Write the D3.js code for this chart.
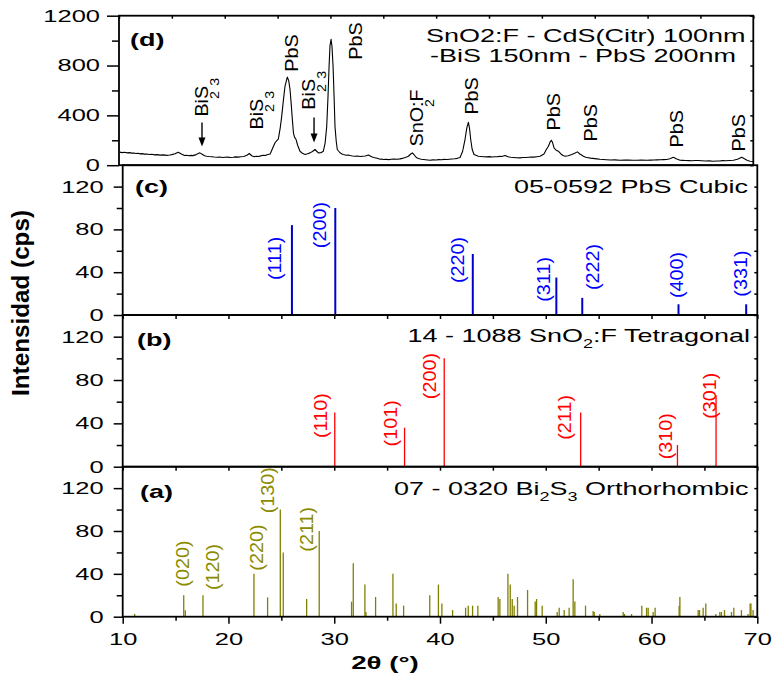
<!DOCTYPE html>
<html><head><meta charset="utf-8">
<script src="https://cdn.jsdelivr.net/npm/d3@7"></script>
<style>body{margin:0;background:#fff}svg{display:block}</style>
</head><body>
<svg id="chart" width="772" height="689"></svg>
<script>
// ---------------- DATA ----------------
// (d) measured pattern: [2theta, counts]
const dPattern = [[10.05,105],[10.3,101],[10.5,104],[10.8,99],[11.0,101],[11.2,97],[11.4,98],[11.6,94],[11.8,96],[12.0,91],[12.2,93],[12.4,89],[12.6,90],[12.9,86],[13.1,88],[13.4,83],[13.6,85],[13.9,81],[14.2,83],[14.5,79],[14.8,82],[15.0,85],[15.3,92],[15.6,104],[15.9,90],[16.2,78],[16.4,80],[16.6,76],[16.8,79],[17.0,77],[17.3,85],[17.65,99],[17.9,86],[18.1,76],[18.3,72],[18.5,70],[18.8,68],[19.0,66],[19.3,64],[19.5,66],[19.8,62],[20.0,64],[20.3,65],[20.5,62],[20.8,64],[21.0,67],[21.3,65],[21.5,68],[21.8,70],[22.1,80],[22.33,94],[22.55,76],[22.8,68],[23.0,72],[23.2,70],[23.4,75],[23.65,80],[23.85,78],[24.0,84],[24.3,90],[24.55,140],[24.76,180],[24.95,200],[25.07,210],[25.25,300],[25.39,392],[25.55,520],[25.7,632],[25.92,707],[26.05,680],[26.18,606],[26.3,480],[26.4,366],[26.5,260],[26.6,225],[26.75,206],[26.9,160],[27.12,112],[27.35,95],[27.6,86],[27.85,92],[28.07,99],[28.3,110],[28.54,126],[28.7,112],[28.86,99],[29.1,100],[29.33,112],[29.5,180],[29.65,312],[29.77,550],[29.87,792],[29.96,960],[30.06,1011],[30.15,950],[30.25,792],[30.35,540],[30.43,312],[30.55,190],[30.65,126],[30.9,100],[31.1,90],[31.22,86],[31.5,80],[31.7,82],[31.85,78],[32.1,74],[32.3,72],[32.55,74],[32.8,70],[33.05,72],[33.3,74],[33.59,82],[33.9,68],[34.1,62],[34.3,58],[34.5,54],[34.7,48],[34.85,50],[35.0,46],[35.25,48],[35.5,45],[35.75,48],[36.0,50],[36.3,48],[36.58,51],[36.8,55],[37.0,60],[37.2,66],[37.37,72],[37.6,90],[37.75,99],[37.95,80],[38.16,59],[38.4,52],[38.6,48],[38.8,46],[39.0,44],[39.2,42],[39.42,40],[39.7,43],[40.0,42],[40.25,45],[40.5,44],[40.75,47],[41.0,46],[41.25,48],[41.5,50],[41.75,52],[42.0,55],[42.26,62],[42.5,110],[42.73,206],[42.9,300],[43.05,344],[43.15,300],[43.27,206],[43.4,130],[43.58,86],[44.0,72],[44.25,70],[44.5,68],[44.79,67],[45.05,69],[45.3,66],[45.55,68],[45.8,68],[46.0,71],[46.2,70],[46.52,78],[46.8,68],[47.05,64],[47.3,62],[47.6,60],[47.94,59],[48.2,62],[48.5,62],[48.75,64],[49.0,66],[49.25,65],[49.5,68],[49.83,72],[50.2,90],[50.45,130],[50.62,152],[50.8,190],[50.9,200],[51.0,185],[51.15,139],[51.35,120],[51.56,112],[51.8,90],[52.0,78],[52.2,72],[52.5,76],[52.83,86],[53.1,96],[53.36,107],[53.6,90],[53.93,72],[54.15,64],[54.4,60],[54.6,57],[54.8,55],[55.0,53],[55.19,51],[55.5,48],[55.8,46],[56.1,44],[56.5,42],[56.9,43],[57.4,40],[57.8,41],[58.2,42],[58.6,40],[59.0,40],[59.4,42],[59.92,40],[60.3,41],[60.6,42],[60.9,43],[61.2,44],[61.5,45],[61.81,46],[62.1,52],[62.44,64],[62.7,52],[63.07,40],[63.3,39],[63.6,38],[63.9,37],[64.2,36],[64.5,38],[64.8,38],[65.1,36],[65.5,34],[65.8,35],[66.22,32],[66.5,34],[66.8,34],[67.1,37],[67.4,36],[67.75,38],[68.12,40],[68.5,48],[68.91,64],[69.2,50],[69.45,38],[69.7,32],[70.0,30]];
const dPeakNames = ["Bi2S3","Bi2S3","PbS","Bi2S3","PbS","SnO2:F","PbS","PbS","PbS","PbS","PbS"];
const dPeakLabelTheta = [18.45,23.66,26.93,28.54,32.99,38.79,43.96,51.72,55.22,63.36,69.23];
const dPeakLabelCounts = [390,286,750,446,846,150,406,278,190,142,110];
const dArrowTheta = [17.85,28.45];
const dArrowFrom = [342,382];
const dArrowTo = [150,182];

// (c) PbS cubic 05-0592
const pbsTheta = [26.0,30.1,43.1,51.0,53.45,62.55,68.95];
const pbsInt = [84,100,57,35,16,10,10];
const pbsHkl = ["(111)","(200)","(220)","(311)","(222)","(400)","(331)"];
const pbsLabelTheta = [24.96,29.2,42.26,50.39,55.0,62.94,69.05];
const pbsLabelInt = [32.7,62.5,29.9,12.4,23.3,15.9,17.1];

// (b) SnO2:F tetragonal 14-1088
const snoTheta = [30.05,36.65,40.4,53.3,62.45,66.1];
const snoInt = [50,36,100,50,20,66];
const snoHkl = ["(110)","(101)","(200)","(211)","(310)","(301)"];
const snoLabelTheta = [29.3,35.93,39.6,52.37,61.9,66.08];
const snoLabelInt = [26.5,18.7,62.3,24.9,6.9,44.2];

// (a) Bi2S3 orthorhombic 07-0320
const biTheta = [11.13,15.77,15.92,17.59,22.41,23.70,24.90,25.18,27.39,28.58,31.64,31.80,32.90,33.00,33.91,35.55,35.86,36.56,39.03,39.85,40.18,41.19,42.42,42.67,43.08,43.58,45.50,45.66,46.42,46.64,46.83,47.01,47.33,48.28,49.00,49.13,49.66,51.08,51.27,51.74,52.21,52.59,52.75,53.76,54.48,54.58,55.11,57.32,57.45,58.11,59.08,59.53,59.68,60.15,60.34,62.61,62.68,64.41,64.54,64.88,65.13,66.08,66.46,66.61,66.90,67.56,67.78,68.50,69.13,69.32,69.40,69.60];
const biInt = [2.5,20,6,20,40,18,100,60,16.5,80,14,50,30,4.4,18.4,40,12.4,10.3,20,30,12.4,6.2,8.4,10.3,10.3,10.3,18.4,16.5,40,30,16.5,10.3,18.4,25,14.3,16.5,10.3,4.4,8.4,6.2,8.4,35,14.3,10.3,5.3,4.4,2.5,4.4,2.5,2.5,10.3,8.4,8.4,4.4,8.4,10.3,18.4,6.2,6.2,8.4,12.4,2.5,4.4,4.4,6.2,4.4,8.4,6.2,2.5,12.4,12.4,6.2];
const biHkl = ["(020)","(120)","(220)","(130)","(211)"];
const biLabelTheta = [16.27,19.1,23.26,24.35,28.0];
const biLabelInt = [28,24.9,43,96.5,60.7];

// axes ticks
const xMajor = [10,20,30,40,50,60,70];
const xAll = [10,15,20,25,30,35,40,45,50,55,60,65,70];
const xMinor = [15,25,35,45,55,65];
const dYMajor = [0,400,800,1200], dYMinor = [200,600,1000], dYAll = [0,200,400,600,800,1000,1200];
const refYMajor = [0,40,80,120], refYMinor = [20,60,100], refYAll = [0,20,40,60,80,100,120];

// ---------------- LAYOUT ----------------
const FONT = "'Liberation Sans', Arial, Helvetica, sans-serif";
const SX = 1.5;   // horizontal text stretch of the original
const RS = 1.1;   // stretch along rotated text
const svg = d3.select('#chart');
svg.append('rect').attr('width',772).attr('height',689).attr('fill','#fff');

function mkPanel(top,bottom,left,right,ymax){
  return {top,bottom,left,right,
    x:d3.scaleLinear().domain([10,70]).range([left,right]),
    y:d3.scaleLinear().domain([0,ymax]).range([bottom,top])};
}
const P = {
  d: mkPanel(15.7,165.2,119,753.3,1200),
  c: mkPanel(165.2,315,122.7,757.3,140),
  b: mkPanel(315,466.7,122.7,757.3,140),
  a: mkPanel(466.7,616.7,122.7,757.3,140)
};

// ---------------- TEXT HELPERS ----------------
function addSegs(t, segs, subSize, subDy){
  let cur = 0;
  segs.forEach(([str,kind,dx])=>{
    const ts = t.append('tspan').text(str);
    const target = kind==='s' ? subDy : 0;
    if (target!==cur){ ts.attr('dy', target-cur); cur = target; }
    if (kind==='s') ts.attr('font-size', subSize);
    if (dx) ts.attr('dx', dx);
  });
}
// formula like Bi2S3 / SnO2:F -> segments (digits after letters become subscripts)
function formulaSegs(s, overlap, subSize){
  const segs = [];
  let prevSub = false;
  const parts = s.match(/[^\d]+|\d+/g);
  parts.forEach((p,i)=>{
    const isNum = /^\d+$/.test(p);
    const prev = i>0 ? parts[i-1] : '';
    if (isNum && /[A-Za-z]$/.test(prev)){
      segs.push([p,'s']); prevSub = true;
    } else {
      segs.push([p,'n', (overlap && prevSub) ? -0.556*subSize : 0]); prevSub = false;
    }
  });
  return segs;
}
function hText(x,y,segs,o={}){
  const t = svg.append('text')
    .attr('transform',`translate(${x},${y}) scale(${SX},1)`)
    .attr('font-family',FONT).attr('font-size',o.size||18)
    .attr('font-weight',o.weight||'normal').attr('text-anchor',o.anchor||'start')
    .attr('fill',o.fill||'#000');
  addSegs(t,segs,o.subSize||12,o.subDy||6);
  return t;
}
function rText(x,y,segs,o={}){
  const t = svg.append('text')
    .attr('transform',`translate(${x},${y}) rotate(-90) scale(${RS},1)`)
    .attr('font-family',FONT).attr('font-size',o.size||18)
    .attr('font-weight',o.weight||'normal').attr('text-anchor',o.anchor||'start')
    .attr('fill',o.fill||'#000');
  addSegs(t,segs,o.subSize||13,o.subDy||11);
  return t;
}

// ---------------- PANEL (d) ----------------
const pd = P.d;
svg.append('path').datum(dPattern)
  .attr('d', d3.line().x(d=>pd.x(d[0])).y(d=>pd.y(d[1])))
  .attr('fill','none').attr('stroke','#000').attr('stroke-width',1.1).attr('stroke-linejoin','round');

dPeakNames.forEach((n,i)=>{
  rText(pd.x(dPeakLabelTheta[i]), pd.y(dPeakLabelCounts[i]), formulaSegs(n,true,13), {size:18});
});
dArrowTheta.forEach((t,i)=>{
  const x = pd.x(t), y1 = pd.y(dArrowFrom[i]), y2 = pd.y(dArrowTo[i]);
  svg.append('line').attr('x1',x).attr('x2',x).attr('y1',y1).attr('y2',y2-6)
    .attr('stroke','#000').attr('stroke-width',1.4);
  svg.append('path').attr('d',`M${x-3.5},${y2-9}L${x+3.5},${y2-9}L${x},${y2}Z`).attr('fill','#000');
});

// ---------------- STICK PANELS ----------------
function sticks(p, th, iv, color, w){
  svg.append('g').selectAll('line').data(th).join('line')
    .attr('x1',d=>p.x(d)).attr('x2',d=>p.x(d))
    .attr('y1',p.y(0)).attr('y2',(d,i)=>p.y(iv[i]))
    .attr('stroke',color).attr('stroke-width',w);
}
function hklLabels(p, names, lt, li, color){
  names.forEach((n,i)=>rText(p.x(lt[i]), p.y(li[i]), [[n,'n']], {size:18, fill:color}));
}
sticks(P.c, pbsTheta, pbsInt, '#0000c8', 2);
hklLabels(P.c, pbsHkl, pbsLabelTheta, pbsLabelInt, '#0000ff');
sticks(P.b, snoTheta, snoInt, '#ff0000', 1.3);
hklLabels(P.b, snoHkl, snoLabelTheta, snoLabelInt, '#ff0000');
sticks(P.a, biTheta, biInt, '#808000', 1.3);
hklLabels(P.a, biHkl, biLabelTheta, biLabelInt, '#8b8b00');

// ---------------- AXES & FRAMES ----------------
function styleAxis(g){
  g.attr('font-family',FONT).attr('font-size',17);
  g.select('.domain').remove();
  g.selectAll('line').attr('stroke','#000').attr('stroke-width',1.5);
}
function yAxes(p, major, minor, all, majLen, minLen){
  const gL = svg.append('g').attr('transform',`translate(${p.left},0)`)
    .call(d3.axisLeft(p.y).tickValues(major).tickSize(majLen).tickFormat(d3.format('d')));
  styleAxis(gL);
  gL.selectAll('text').attr('fill','#000').attr('x',-19/SX).attr('transform',`scale(${SX},1)`);
  const gm = svg.append('g').attr('transform',`translate(${p.left},0)`)
    .call(d3.axisLeft(p.y).tickValues(minor).tickSize(minLen).tickFormat(()=>''));
  styleAxis(gm);
  const gR = svg.append('g').attr('transform',`translate(${p.right},0)`)
    .call(d3.axisLeft(p.y).tickValues(all).tickSize(3).tickFormat(()=>''));
  styleAxis(gR);
}
yAxes(P.d, dYMajor, dYMinor, dYAll, 12, 7);
['c','b','a'].forEach(k=>yAxes(P[k], refYMajor, refYMinor, refYAll, 9, 6));

// top ticks of (d), inward
styleAxis(svg.append('g').attr('transform',`translate(0,${P.d.top})`)
  .call(d3.axisBottom(P.d.x).tickValues(xAll).tickSize(3).tickFormat(()=>'')));
// bottom ticks of (c),(b)
['c','b'].forEach(k=>{
  styleAxis(svg.append('g').attr('transform',`translate(0,${P[k].bottom})`)
    .call(d3.axisBottom(P[k].x).tickValues(xAll).tickSize(4).tickFormat(()=>'')));
});
// bottom axis of (a)
const gxa = svg.append('g').attr('transform',`translate(0,${P.a.bottom})`)
  .call(d3.axisBottom(P.a.x).tickValues(xMajor).tickSize(7).tickFormat(d3.format('d')));
styleAxis(gxa);
gxa.selectAll('text').attr('fill','#000').attr('dy',0).attr('y',28.3).attr('transform',`scale(${SX},1)`);
styleAxis(svg.append('g').attr('transform',`translate(0,${P.a.bottom})`)
  .call(d3.axisBottom(P.a.x).tickValues(xMinor).tickSize(4).tickFormat(()=>'')));

// frames
Object.values(P).forEach(p=>{
  svg.append('rect').attr('x',p.left).attr('y',p.top)
    .attr('width',p.right-p.left).attr('height',p.bottom-p.top)
    .attr('fill','none').attr('stroke','#000').attr('stroke-width',1.8);
});

// ---------------- TEXTS ----------------
hText(130,46,[['(d)','n']],{weight:'bold',size:18});
hText(135,193,[['(c)','n']],{weight:'bold',size:18});
hText(137,346,[['(b)','n']],{weight:'bold',size:18});
hText(140,497.5,[['(a)','n']],{weight:'bold',size:18});

hText(426,41.7,[['SnO2:F - CdS(Citr) 100nm','n']]);
hText(430,62,[['-BiS 150nm - PbS 200nm','n']]);
hText(748,193,[['05-0592 PbS Cubic','n']],{anchor:'end'});
hText(750,342,[['14 - 1088 SnO','n'],['2','s'],[':F Tetragonal','n']],{anchor:'end'});
hText(748.5,495,[['07 - 0320 Bi','n'],['2','s'],['S','n'],['3','s'],[' Orthorhombic','n']],{anchor:'end'});

// axis titles
hText(385,669,[['2θ (°)','n']],{weight:'bold',size:18.5,anchor:'middle'});
svg.append('text').attr('transform','translate(29,303) rotate(-90)')
  .attr('font-family',FONT).attr('font-size',23).attr('font-weight','bold')
  .attr('text-anchor','middle').attr('fill','#000')
  .attr('textLength',186).attr('lengthAdjust','spacingAndGlyphs')
  .text('Intensidad (cps)');
</script>
</body></html>
